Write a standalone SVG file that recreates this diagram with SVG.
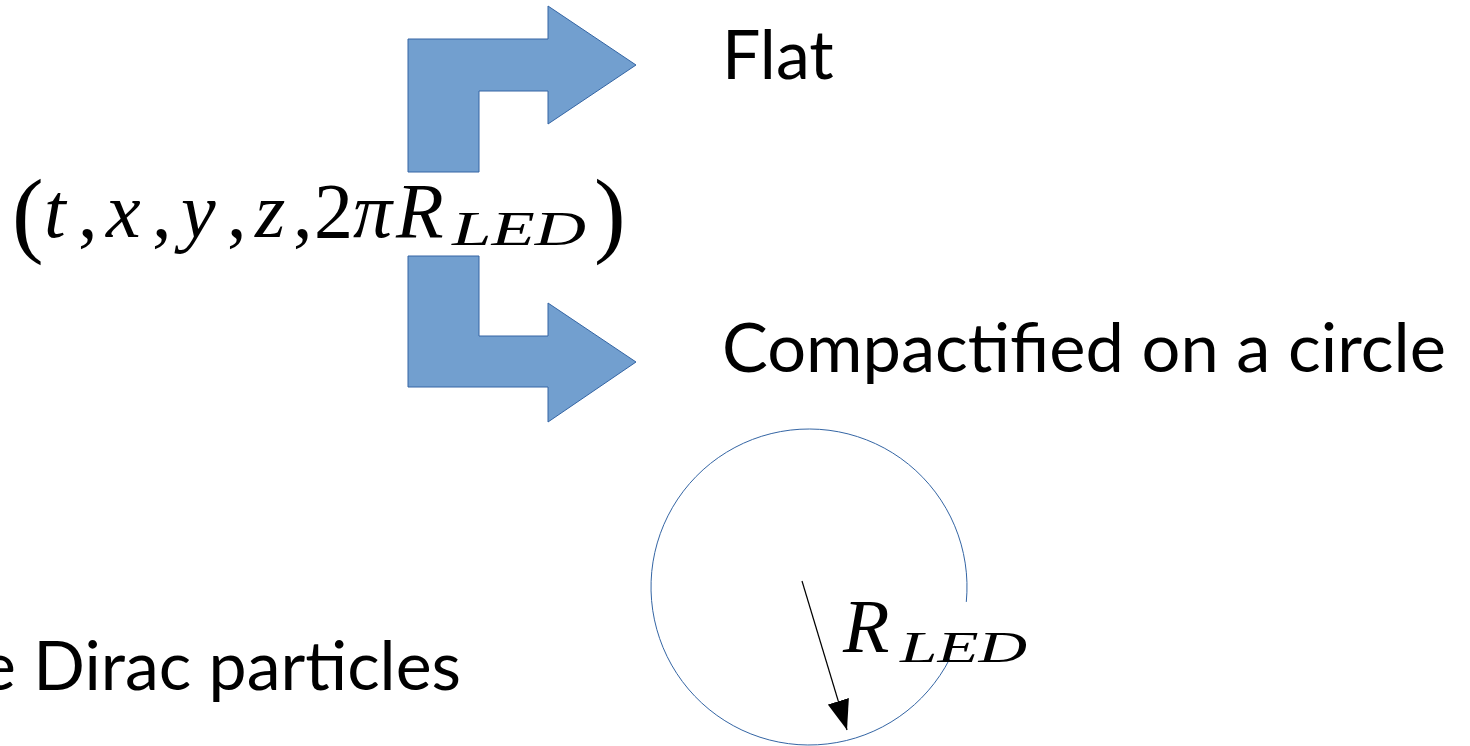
<svg xmlns="http://www.w3.org/2000/svg" width="1470" height="746" viewBox="0 0 1470 746">
<style>
.bend{fill:#729fcf;stroke:#3465a4;stroke-width:1}
.lbl{font-family:Lato,"Liberation Sans",sans-serif;fill:#000}
.m{font-family:"Liberation Serif","DejaVu Serif",serif;fill:#000}
.i{font-style:italic}
.conn{stroke:#000;stroke-width:1.2;fill:none}
</style>
<defs>
<marker id="ah" markerUnits="userSpaceOnUse" markerWidth="30" markerHeight="22" refX="30" refY="11" orient="auto">
<path d="M0,0 L30,11 L0,22 z" fill="#000"/>
</marker>
</defs>
<rect width="1470" height="746" fill="#fff"/>
<g id="arrow-flat">
<polygon class="bend" points="408,39 548,39 548,6 636,65 548,124 548,91 479,91 479,172 408,172"/>
</g>
<g id="arrow-compact">
<polygon class="bend" points="408,256 479,256 479,336 548,336 548,303 636,362 548,422 548,387 408,387"/>
</g>
<g id="formula">
<text class="m" font-size="95" x="12" y="245">(</text>
<text class="m" font-size="78" y="237"><tspan class="i" x="44">t</tspan><tspan x="78">,</tspan><tspan class="i" x="106">x</tspan><tspan x="152">,</tspan><tspan class="i" x="181">y</tspan><tspan x="227">,</tspan><tspan class="i" x="255">z</tspan><tspan x="293">,</tspan><tspan x="314">2</tspan><tspan class="i" x="353">π</tspan><tspan class="i" x="396">R</tspan></text>
<text class="m i" font-size="48" x="452" y="245" textLength="134" lengthAdjust="spacingAndGlyphs">LED</text>
<text class="m" font-size="95" x="594" y="245">)</text>
</g>
<g id="flat"><text class="lbl" font-size="68" x="722" y="79">Flat</text></g>
<g id="compact"><text class="lbl" font-size="68" x="722" y="372" textLength="724" lengthAdjust="spacingAndGlyphs">Compactified on a circle</text></g>
<g id="dirac"><text class="lbl" font-size="68" x="461" y="690" text-anchor="end">e Dirac particles</text></g>
<g id="circle">
<path d="M949.8,658.7 A158,158 0 1 1 966.3,601.9" fill="none" stroke="#3465a4" stroke-width="1"/>
</g>
<g id="radius-label">
<text class="m i" font-size="76" x="843" y="652">R</text>
<text class="m i" font-size="45" x="900" y="662" textLength="127" lengthAdjust="spacingAndGlyphs">LED</text>
</g>
<g id="connectors">
<line class="conn" x1="802" y1="581" x2="847" y2="730" marker-end="url(#ah)"/>
</g>
</svg>
